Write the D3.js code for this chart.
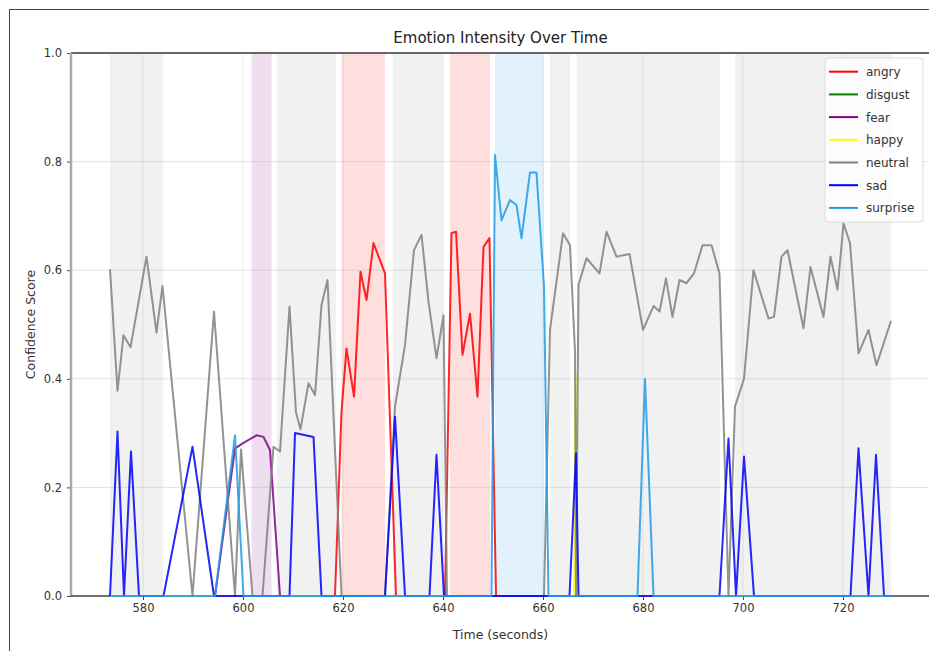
<!DOCTYPE html>
<html>
<head>
<meta charset="utf-8">
<script src="https://cdn.jsdelivr.net/npm/d3@7"></script>
<style>
body { margin: 0; background: #fff; }
svg { display: block; font-family: "DejaVu Sans", sans-serif; }
</style>
</head>
<body>
<svg id="chart" width="929" height="651"></svg>
<script>
/*
 *  DATA
 */
var emotions = ["angry", "disgust", "fear", "happy", "neutral", "sad", "surprise"];
var colors = ["#ff0000", "#008000", "#800080", "#ffff00", "#808080", "#0000ff", "#1e9be6"];

// [time, score] per emotion
var angry = [[573.4,0],[618.4,0],[619.7,0.34],[620.7,0.456],[622.2,0.367],[623.5,0.597],[624.7,0.545],[626.1,0.65],[628.4,0.594],[630.6,0],
    [640.4,0],[641.7,0.668],[642.6,0.671],[643.9,0.444],[645.4,0.52],[646.9,0.367],[648.1,0.643],[649.3,0.659],[650.6,0],[729.6,0]];
var disgust = [[573.4,0],[729.6,0]];
var fear = [[573.4,0],[594.4,0],[598.4,0.272],[600.1,0.282],[602.7,0.296],[604.1,0.293],[605.4,0.269],[607.4,0],[729.6,0]];
var happy = [[573.4,0],[666.2,0],[666.5,0.41],[666.8,0],[729.6,0]];
var neutral = [[573.4,0.602],[574.9,0.378],[576.1,0.48],[577.5,0.458],[580.7,0.625],[582.7,0.485],[583.9,0.571],[589.9,0],[594.2,0.524],
    [598.4,0],[599.6,0.27],[601.9,0],[603.9,0],[606.1,0.275],[607.4,0.266],[609.3,0.533],[610.6,0.338],[611.5,0.307],[613.1,0.392],
    [614.4,0.37],[615.7,0.536],[616.9,0.582],[619.7,0],[628.4,0],[630.4,0.349],[632.4,0.462],[634.2,0.637],[635.7,0.665],[637.1,0.542],
    [638.7,0.438],[640.1,0.517],[640.8,0],[660.2,0],[661.4,0.49],[664.0,0.668],[665.4,0.646],[666.4,0.45],[666.6,0],[667.1,0.573],
    [668.7,0.622],[671.3,0.594],[672.7,0.671],[674.7,0.625],[677.3,0.63],[680.0,0.49],[682.1,0.534],[683.3,0.524],[684.6,0.585],
    [685.9,0.514],[687.3,0.582],[688.7,0.576],[690.2,0.594],[691.9,0.646],[693.7,0.646],[695.3,0.594],[697.1,0],[698.4,0.349],
    [700.2,0.40],[702.1,0.60],[705.1,0.511],[706.2,0.514],[707.7,0.625],[708.9,0.637],[712.1,0.493],[713.5,0.606],[716.1,0.514],
    [717.5,0.625],[718.9,0.564],[720.1,0.686],[721.4,0.65],[723.1,0.447],[725.1,0.49],[726.7,0.425],[729.6,0.507]];
var sad = [[573.4,0],[574.9,0.303],[576.2,0],[577.6,0.266],[579.2,0],[584.1,0],[589.9,0.275],[594.2,0],[609.3,0],[610.4,0.3],[614.1,0.293],
    [615.7,0],[628.4,0],[630.4,0.33],[632.4,0],[637.3,0],[638.7,0.26],[640.2,0],[665.3,0],[666.6,0.263],[667.1,0],[695.3,0],[697.1,0.29],
    [698.6,0],[700.2,0.257],[702.2,0],[721.5,0],[723.1,0.272],[725.1,0],[726.6,0.26],[728.2,0],[729.6,0]];
var surprise = [[573.4,0],[594.4,0],[598.4,0.296],[600.1,0],[649.7,0],[650.4,0.812],[651.7,0.692],[653.4,0.729],[654.7,0.72],[655.7,0.659],
    [657.4,0.78],[658.7,0.78],[660.2,0.57],[661.1,0],[678.9,0],[680.4,0.40],[682.1,0],[729.6,0]];
var series = [angry, disgust, fear, happy, neutral, sad, surprise];

// dominant emotion spans: [start, end, emotion]
var spans = [[573.4,584.0,"neutral"],[601.7,605.7,"fear"],[606.8,618.6,"neutral"],[619.7,628.4,"angry"],
    [630.0,640.0,"neutral"],[641.4,649.4,"angry"],[650.4,660.2,"surprise"],[661.4,665.4,"neutral"],[666.8,695.4,"neutral"],
    [698.4,729.6,"neutral"]];

var x_ticks = [580, 600, 620, 640, 660, 680, 700, 720];
var y_ticks = [0, 0.2, 0.4, 0.6, 0.8, 1.0];
var x_domain = [565.6, 737.4];

/*
 *  LAYOUT
 */
var margin = {top: 53, left: 71};
var width = 859;
var height = 543;

var svg = d3.select("#chart");

// outer frame of the screenshot
svg.append("rect")
    .attr("x", 9.5).attr("y", 9.5)
    .attr("width", 940).attr("height", 660)
    .attr("fill", "none")
    .attr("stroke", "#444")
    .attr("stroke-width", 1);

var g = svg.append("g")
    .attr("transform", "translate(" + margin.left + "," + margin.top + ")");

var x_scale = d3.scaleLinear().domain(x_domain).range([0, width]);
var y_scale = d3.scaleLinear().domain([0, 1]).range([height, 0]);

var colorOf = d3.scaleOrdinal().domain(emotions).range(colors);

// background spans
g.selectAll(".span")
    .data(spans)
    .enter()
    .append("rect")
    .attr("class", "span")
    .attr("x", function(d) { return x_scale(d[0]); })
    .attr("width", function(d) { return x_scale(d[1]) - x_scale(d[0]); })
    .attr("y", 0)
    .attr("height", height)
    .attr("fill", function(d) { return colorOf(d[2]); })
    .attr("fill-opacity", function(d) { return d[2] == "neutral" ? 0.11 : 0.13; });

// grid
g.selectAll(".hgrid")
    .data(y_ticks)
    .enter()
    .append("line")
    .attr("x1", 0).attr("x2", width)
    .attr("y1", function(d) { return y_scale(d); })
    .attr("y2", function(d) { return y_scale(d); })
    .attr("stroke", "#b0b0b0")
    .attr("stroke-opacity", 0.35)
    .attr("stroke-width", 1);
g.selectAll(".vgrid")
    .data(x_ticks)
    .enter()
    .append("line")
    .attr("y1", 0).attr("y2", height)
    .attr("x1", function(d) { return x_scale(d); })
    .attr("x2", function(d) { return x_scale(d); })
    .attr("stroke", "#b0b0b0")
    .attr("stroke-opacity", 0.25)
    .attr("stroke-width", 1);

// axes
var xAxis = g.append("g")
    .attr("transform", "translate(0," + height + ")")
    .call(d3.axisBottom(x_scale).tickValues(x_ticks).tickSize(4).tickPadding(4).tickFormat(d3.format("d")));
var yAxis = g.append("g")
    .call(d3.axisLeft(y_scale).tickValues(y_ticks).tickSize(4).tickPadding(5).tickFormat(d3.format(".1f")));
[xAxis, yAxis].forEach(function(a) {
    a.select(".domain").remove();
    a.selectAll("text").attr("fill", "#333").style("font-size", "11.5px").style("font-family", "DejaVu Sans");
    a.selectAll(".tick line").attr("stroke", "#444");
});

// spines
g.append("line").attr("x1", 0).attr("x2", width).attr("y1", 0).attr("y2", 0)
    .attr("stroke", "#666").attr("stroke-width", 2);
g.append("line").attr("x1", 0).attr("x2", 0).attr("y1", 0).attr("y2", height)
    .attr("stroke", "#aaa").attr("stroke-width", 2.5);
g.append("line").attr("x1", 0).attr("x2", width).attr("y1", height).attr("y2", height)
    .attr("stroke", "#444").attr("stroke-width", 1.5);

// lines
var valueline = d3.line()
    .x(function(d) { return x_scale(d[0]); })
    .y(function(d) { return y_scale(d[1]); });

series.forEach(function(s, i) {
    g.append("path")
        .datum(s)
        .attr("fill", "none")
        .attr("stroke", colors[i])
        .attr("stroke-opacity", 0.85)
        .attr("stroke-width", 2)
        .attr("stroke-linejoin", "round")
        .attr("d", valueline);
});

// legend
var legend = g.append("g")
    .attr("transform", "translate(" + (x_scale(737.4) - 105) + ",5)");
legend.append("rect")
    .attr("x", 0).attr("y", 0)
    .attr("width", 98).attr("height", 164)
    .attr("rx", 3)
    .attr("fill", "#fff").attr("fill-opacity", 0.8)
    .attr("stroke", "#ddd");
var item = legend.selectAll(".item")
    .data(emotions)
    .enter()
    .append("g")
    .attr("class", "item")
    .attr("transform", function(d, i) { return "translate(0," + (13.7 + i * 22.7) + ")"; });
item.append("line")
    .attr("x1", 4).attr("x2", 33)
    .attr("stroke", function(d) { return colorOf(d); })
    .attr("stroke-width", 2);
item.append("text")
    .attr("x", 41).attr("y", 4.5)
    .attr("fill", "#333")
    .style("font-size", "12px")
    .text(function(d) { return d; });

// titles
svg.append("text")
    .attr("x", margin.left + width / 2).attr("y", 43)
    .attr("text-anchor", "middle")
    .attr("fill", "#222")
    .style("font-size", "15px")
    .text("Emotion Intensity Over Time");
svg.append("text")
    .attr("x", margin.left + width / 2).attr("y", 639)
    .attr("text-anchor", "middle")
    .attr("fill", "#333")
    .style("font-size", "12.5px")
    .text("Time (seconds)");
svg.append("text")
    .attr("transform", "translate(35," + (margin.top + height / 2) + ")rotate(-90)")
    .attr("text-anchor", "middle")
    .attr("fill", "#333")
    .style("font-size", "12.5px")
    .text("Confidence Score");
</script>
</body>
</html>
